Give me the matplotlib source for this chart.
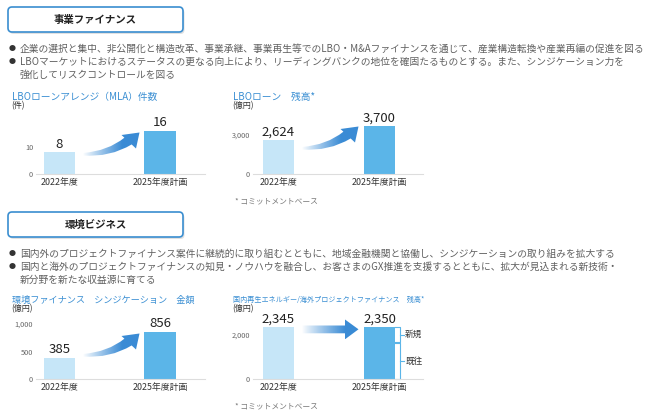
import numpy as np
import matplotlib
matplotlib.use("Agg")
import matplotlib.pyplot as plt
from matplotlib.path import Path
from matplotlib.patches import PathPatch, FancyBboxPatch
from matplotlib.colors import to_rgb

plt.rcParams['font.family'] = ['Noto Sans CJK JP', 'DejaVu Sans']

# data
categories = ['2022年度', '2025年度計画']
mla_counts = [8, 16]
lbo_balance = [2624, 3700]
env_synd = [385, 856]
renew_pf = [2345, 2350]
renew_existing_2025 = 1650
renew_new_2025 = 700

header1 = '事業ファイナンス'
header2 = '環境ビジネス'
bullets1 = ['企業の選択と集中、非公開化と構造改革、事業承継、事業再生等でのLBO・M&Aファイナンスを通じて、産業構造転換や産業再編の促進を図る',
            'LBOマーケットにおけるステータスの更なる向上により、リーディングバンクの地位を確固たるものとする。また、シンジケーション力を',
            '強化してリスクコントロールを図る']
bullets2 = ['国内外のプロジェクトファイナンス案件に継続的に取り組むとともに、地域金融機関と協働し、シンジケーションの取り組みを拡大する',
            '国内と海外のプロジェクトファイナンスの知見・ノウハウを融合し、お客さまのGX推進を支援するとともに、拡大が見込まれる新技術・',
            '新分野を新たな収益源に育てる']
note = '* コミットメントベース'

# colours
light = '#c6e6f8'
dark = '#5bb5e8'
title_blue = '#3b8fd3'
arrow_blue = '#3a8bd5'
text_gray = '#606060'

W, H = 648, 417
fig = plt.figure(figsize=(W / 100, H / 100), dpi=100)
fig.patch.set_facecolor('white')

# overlay in pixel coordinates for boxes, text and arrows
ov = fig.add_axes([0, 0, 1, 1])
ov.patch.set_alpha(0)
ov.axis('off')


def header(y, label):
    sh = FancyBboxPatch((9.5, y + 2), 175, 25, boxstyle='round,pad=0,rounding_size=4',
                        fc='#d5d5d5', ec='none', alpha=0.7, zorder=1)
    box = FancyBboxPatch((8, y), 175, 25, boxstyle='round,pad=0,rounding_size=4',
                         fc='white', ec='#3a8ed0', lw=1.2, zorder=2)
    ov.add_patch(sh)
    ov.add_patch(box)
    ov.text(95.5, y + 12.5, label, ha='center', va='center', fontsize=7.5,
            fontweight='bold', color='#222222', zorder=3)


def bullet_lines(y0, lines):
    for i, line in enumerate(lines):
        y = y0 + i * 13
        if i < 2:
            ov.text(12, y, '●', ha='center', va='center', fontsize=5, color='#333333')
        ov.text(20, y, line, ha='left', va='center', fontsize=7.0, color=text_gray)


def gradient_arrow(verts, codes, x_start, x_full):
    path = Path(verts, codes)
    patch = PathPatch(path, fc='none', ec='none')
    ov.add_patch(patch)
    xs = np.array([v[0] for v in verts])
    ys = np.array([v[1] for v in verts])
    x0, x1 = xs.min(), xs.max()
    y0, y1 = ys.min(), ys.max()
    n = 200
    xx = np.linspace(x0, x1, n)
    a = np.clip((xx - x_start) / (x_full - x_start), 0, 1) ** 0.9
    rgb = to_rgb(arrow_blue)
    img = np.zeros((2, n, 4))
    img[..., 0] = rgb[0]
    img[..., 1] = rgb[1]
    img[..., 2] = rgb[2]
    img[..., 3] = a
    im = ov.imshow(img, extent=(x0, x1, y1, y0), aspect='auto', interpolation='bilinear', zorder=4)
    im.set_clip_path(patch)


def curved_arrow(dx, dy):
    pts = [(83, 153), (108, 151), (124.4, 137.7), (121.5, 135), (139.5, 132.5),
           (136, 148.5), (131.65, 144.45), (110, 157.5), (83, 155.5), (83, 153)]
    pts = [(x + dx, y + dy) for x, y in pts]
    codes = [Path.MOVETO, Path.CURVE3, Path.CURVE3, Path.LINETO, Path.LINETO,
             Path.LINETO, Path.LINETO, Path.CURVE3, Path.CURVE3, Path.CLOSEPOLY]
    gradient_arrow(pts, codes, 83 + dx, 122 + dx)


def straight_arrow():
    pts = [(302, 325.5), (345, 325.5), (345, 319.5), (358.5, 329.3), (345, 339.3),
           (345, 333.3), (302, 333.3), (302, 325.5)]
    codes = [Path.MOVETO] + [Path.LINETO] * 6 + [Path.CLOSEPOLY]
    gradient_arrow(pts, codes, 302, 345)


header(7, header1)
bullet_lines(49, bullets1)
header(212, header2)
bullet_lines(254, bullets2)


def chart(x0, x1, yb, ymax, xlim, values, ticks, ticklabels, title, unit, ty, title_size, stack=None):
    ax = fig.add_axes([x0 / W, 1 - yb / H, (x1 - x0) / W, 64 / H])
    ax.set_facecolor('none')
    xpos = np.arange(len(categories))
    if stack is None:
        ax.bar(xpos, values, width=0.31, color=[light, dark], zorder=2)
    else:
        ax.bar(xpos[0], values[0], width=0.31, color=light, zorder=2)
        ax.bar(xpos[1], stack[0], width=0.31, color=dark, zorder=2)
        ax.bar(xpos[1], stack[1], bottom=stack[0], width=0.31, color=dark, zorder=2)
    for xp, v in zip(xpos, values):
        ax.annotate(f'{v:,}', (xp, v), xytext=(0, 3.4), textcoords='offset points',
                    ha='center', va='baseline', fontsize=9.5, color='#222222')
    ax.set_xlim(*xlim)
    ax.set_ylim(0, ymax)
    ax.set_yticks(ticks)
    ax.set_yticklabels(ticklabels, fontsize=5.3, color='#666666')
    ax.set_xticks(xpos)
    ax.set_xticklabels(categories, fontsize=6.4, color='#333333')
    ax.tick_params(axis='y', length=0, pad=2)
    ax.tick_params(axis='x', length=0, pad=3.2)
    for s in ['top', 'right', 'left']:
        ax.spines[s].set_visible(False)
    ax.spines['bottom'].set_color('#dddddd')
    ax.spines['bottom'].set_linewidth(0.8)
    tx = x0 - 24 if x0 < 100 else x0 - 20
    ov.text(tx, ty, title, ha='left', va='center', fontsize=title_size, color=title_blue)
    ov.text(tx - 1, ty + 9, unit, ha='left', va='center', fontsize=5.8, color='#333333')
    return ax


chart(36, 205, 174, 23.7, (-0.234, 1.448), mla_counts, [0, 10], ['0', '10'],
      'LBOローンアレンジ（MLA）件数', '(件)', 97, 7.0)
chart(253, 423, 174, 4923, (-0.252, 1.431), lbo_balance, [0, 3000], ['0', '3,000'],
      'LBOローン　残高*', '(億円)', 97, 7.0)
chart(36, 205, 379, 1164, (-0.234, 1.448), env_synd, [0, 500, 1000], ['0', '500', '1,000'],
      '環境ファイナンス　シンジケーション　金額', '(億円)', 300, 6.6)
ax4 = chart(253, 423, 379, 2909, (-0.252, 1.431), renew_pf, [0, 2000], ['0', '2,000'],
            '国内再生エネルギー/海外プロジェクトファイナンス　残高*', '(億円)', 300, 5.1,
            stack=(renew_existing_2025, renew_new_2025))

# bracket for 新規 / 既往
bx = 1.2
tk = 0.045
bc = '#5bb5e8'
top = renew_existing_2025 + renew_new_2025
gap = 30
for lo, hi, lab in [(renew_existing_2025 + gap, top, '新規'), (0, renew_existing_2025 - gap, '既往')]:
    ax4.plot([bx - tk, bx, bx, bx - tk], [hi, hi, lo, lo], color=bc, lw=0.8, clip_on=False)
    mid = (lo + hi) / 2
    ax4.plot([bx, bx + tk], [mid, mid], color=bc, lw=0.8, clip_on=False)
    ax4.text(bx + tk + 0.01, mid, lab, ha='left', va='center', fontsize=6.2, color='#333333')

# footnotes
ov.text(235, 201, note, ha='left', va='center', fontsize=5.6, color='#777777')
ov.text(235, 406, note, ha='left', va='center', fontsize=5.6, color='#777777')

# arrows
curved_arrow(0, 0)
curved_arrow(219, -6)
curved_arrow(0, 201)
straight_arrow()

ov.set_xlim(0, W)
ov.set_ylim(H, 0)

fig.savefig('out.png', dpi=100, facecolor='white')
